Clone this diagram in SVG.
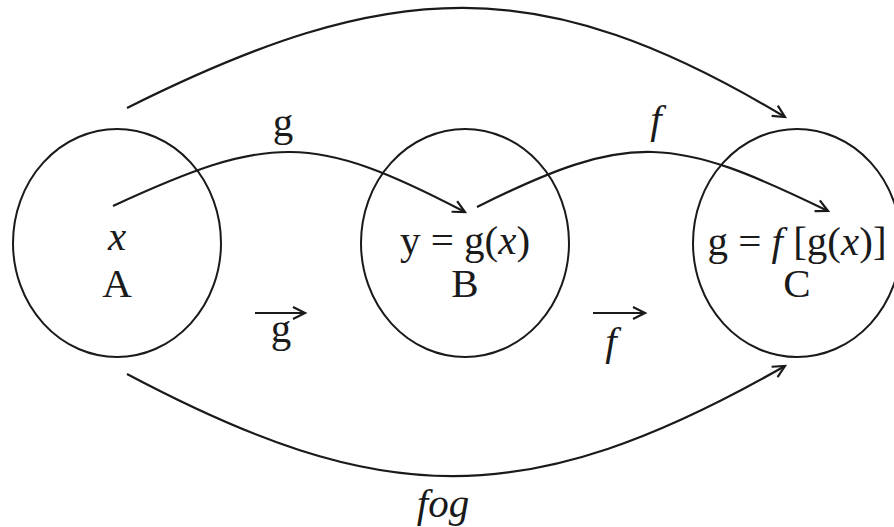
<svg xmlns="http://www.w3.org/2000/svg" width="894" height="527" viewBox="0 0 894 527">
<style>
.c{fill:none;stroke:#1a1a1a;stroke-width:2}
.e{fill:none;stroke:#1a1a1a;stroke-width:2.2}
text{font-size:41px;fill:#1a1a1a;text-anchor:middle}
.i{font-style:italic}
</style>
<defs>
<marker id="ah" markerUnits="userSpaceOnUse" markerWidth="16" markerHeight="16" refX="13" refY="7" orient="auto" viewBox="0 0 16 14">
<path d="M1,1 L13,7 L1,13" fill="none" stroke="#1a1a1a" stroke-width="2.2"/>
</marker>
</defs>
<rect width="894" height="527" fill="#fff"/>
<g font-family="'Liberation Serif', 'Times New Roman', Times, 'DejaVu Serif', serif">
<g id="A">
<ellipse class="c" cx="117" cy="243" rx="104" ry="114"/>
<text class="i" x="117" y="250">x</text>
<text x="117" y="297">A</text>
</g>
<g id="B">
<ellipse class="c" cx="465" cy="243" rx="104" ry="114"/>
<text x="465" y="254">y = g(<tspan class="i">x</tspan>)</text>
<text x="465" y="297">B</text>
</g>
<g id="C">
<ellipse class="c" cx="797" cy="243" rx="104" ry="114"/>
<text x="797" y="255">g = <tspan class="i">f</tspan> [g(<tspan class="i">x</tspan>)]</text>
<text x="797" y="297">C</text>
</g>
<g id="connectors">
<path class="e" d="M127,108 C391,-24 540,-30 785,117" marker-end="url(#ah)"/>
<path class="e" d="M127,374 C380,508 524,515 785,366" marker-end="url(#ah)"/>
<path class="e" d="M113,206 C269,134 312,132 465,212" marker-end="url(#ah)"/>
<path class="e" d="M477,207 C631,130 674,136 828,211" marker-end="url(#ah)"/>
<path class="e" d="M255,313 L305,313" marker-end="url(#ah)"/>
<path class="e" d="M593,313 L645,313" marker-end="url(#ah)"/>
</g>
<g id="labels">
<text x="283" y="136">g</text>
<text class="i" x="656" y="133">f</text>
<text x="281" y="342">g</text>
<text class="i" x="611" y="355">f</text>
<text class="i" x="443" y="517">fog</text>
</g>
</g>
</svg>
